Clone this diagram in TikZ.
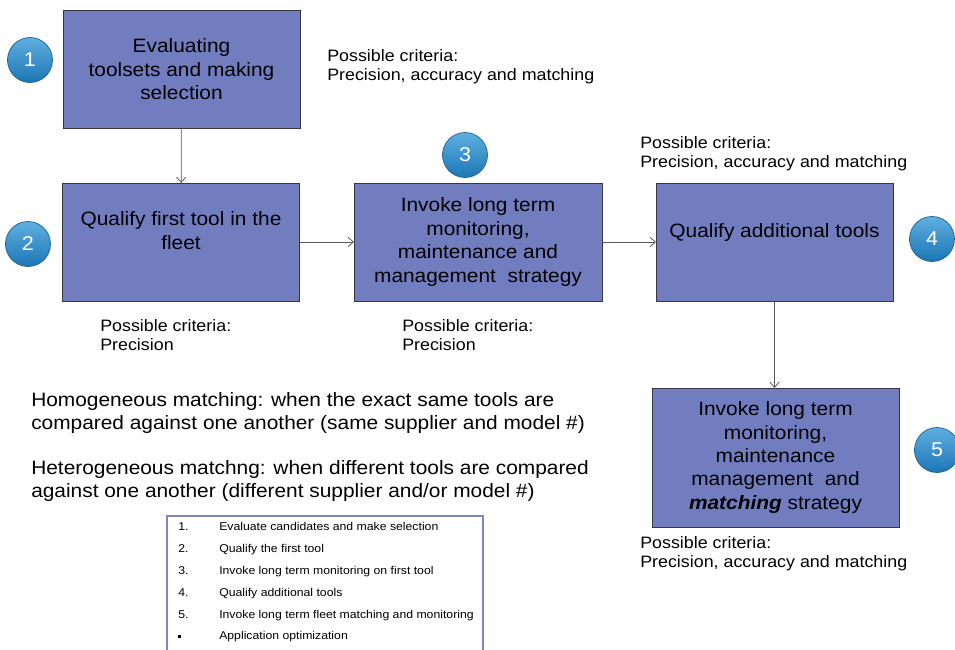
\documentclass[tikz,border=0pt]{standalone}
\usepackage{fontspec}
\setmainfont[FakeStretch=1.08]{Liberation Sans}
\usepackage{tikz}
\usetikzlibrary{arrows.meta}
\definecolor{boxblue}{RGB}{114,125,192}
\definecolor{boxline}{RGB}{55,55,65}
\definecolor{ballblue}{RGB}{28,118,180}
\definecolor{ballhi}{RGB}{95,175,225}
\definecolor{legendline}{RGB}{125,135,200}
\def\px{0.75pt}

\begin{document}
\begin{tikzpicture}[x=0.75pt,y=-0.75pt,
  box/.style={draw=boxline,fill=boxblue,line width=0.7pt,minimum width=237*\px,minimum height=118*\px,
    inner sep=0pt,outer sep=0pt,align=center,font=\fontsize{14.5}{17.6}\selectfont},
  num/.style={circle,top color=ballhi,bottom color=ballblue,draw=ballblue!80!black,line width=0.5pt,
    minimum size=45*\px,inner sep=0pt,text=white,font=\fontsize{15}{15}\selectfont},
  crit/.style={anchor=north west,align=left,inner sep=0pt,font=\fontsize{12.4}{14.6}\selectfont},
  note/.style={anchor=north west,align=left,inner sep=0pt,font=\fontsize{14.5}{17.4}\selectfont},
  item/.style={anchor=base west,inner sep=0pt,font=\fontsize{8.5}{10}\selectfont},
  link/.style={-{Straight Barb[length=4pt,width=7pt]},draw=black!65,line width=0.6pt}]
\useasboundingbox (0,0) rectangle (955,649);

% steps
\node[box] (b1) at (181.5,69.5) {Evaluating\\toolsets and making\\selection};
\node[box] (b2) at (181,242) {Qualify first tool in the\\fleet\\ \mbox{}};
\node[box,minimum width=248*\px] (b3) at (478,242) {Invoke long term\\monitoring,\\maintenance and\\management~ strategy};
\node[box] (b4) at (774.5,242) {Qualify additional tools\\ \mbox{}};
\node[box,minimum width=247*\px,minimum height=139*\px] (b5) at (775.5,457.5)
  {Invoke long term\\monitoring,\\maintenance\\management~ and\\\textbf{\textit{matching}} strategy};

\draw[link] (b1) -- (b2);
\draw[link] (b2) -- (b3);
\draw[link] (b3) -- (b4);
\draw[link] (b4.south) -- (b4.south |- b5.north);

% numbered balls
\node[num] (n1) at (30,60) {1};
\node[num] (n2) at (28,244) {2};
\node[num] (n3) at (465,155) {3};
\node[num] (n4) at (932,239) {4};
\node[num] (n5) at (937,450) {5};

% criteria
\node[crit] (c1) at (327,49) {Possible criteria:\\Precision, accuracy and matching};
\node[crit] (c2) at (100,319) {Possible criteria:\\Precision};
\node[crit] (c3) at (402,319) {Possible criteria:\\Precision};
\node[crit] (c4) at (640,136) {Possible criteria:\\Precision, accuracy and matching};
\node[crit] (c5) at (640,536) {Possible criteria:\\Precision, accuracy and matching};

\node[note] (homo) at (31,392) {Homogeneous matching: when the exact same tools are\\compared against one another (same supplier and model \#)};
\node[note] (hetero) at (31,460) {Heterogeneous matchng: when different tools are compared\\against one another (different supplier and/or model \#)};

% legend
\draw[draw=legendline,line width=1.6pt] (167,516) rectangle (483,664);
\foreach \n/\t [count=\i] in {1./Evaluate candidates and make selection,
    2./Qualify the first tool,
    3./Invoke long term monitoring on first tool,
    4./Qualify additional tools,
    5./Invoke long term fleet matching and monitoring,
    \rule[0.25ex]{2.4pt}{2.4pt}/Application optimization}{
  \node[item] (k\i) at (178,509+21.8*\i) {\n};
  \node[item] (t\i) at (219,509+21.8*\i) {\t};
}
\end{tikzpicture}
\end{document}
